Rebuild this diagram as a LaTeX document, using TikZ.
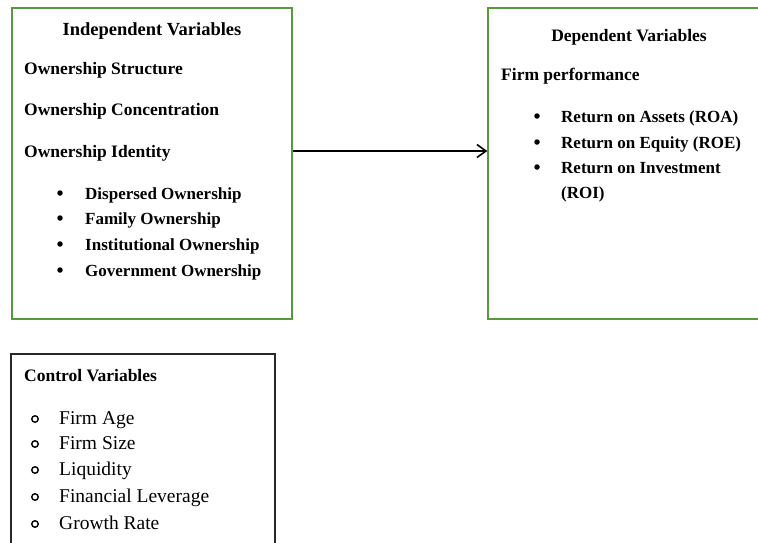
\documentclass[tikz,border=0pt]{standalone}
\usepackage{fontspec}
\setmainfont{Liberation Serif}
\usepackage{tikz}
\usetikzlibrary{arrows.meta}

\definecolor{boxgreen}{RGB}{86,154,58}
\definecolor{boxgray}{RGB}{40,40,40}

\tikzset{
    varbox/.style={draw, line width=1.4pt, inner sep=0pt},
    head/.style={font=\bfseries\fontsize{17.5}{20}\selectfont, inner sep=0pt},
    item/.style={font=\bfseries\fontsize{17}{20}\selectfont, inner sep=0pt, anchor=mid west},
    ctrl/.style={font=\fontsize{19.5}{22}\selectfont, inner sep=0pt, anchor=mid west},
    dot/.style={circle, fill, inner sep=0pt, minimum size=5.5pt},
    ring/.style={circle, draw, line width=1.4pt, inner sep=0pt, minimum size=6.5pt}
}

\begin{document}
\begin{tikzpicture}[x=1pt, y=-1pt]
                \clip (0,0) rectangle (758,542);

                % Boxes
                \node[varbox, boxgreen, minimum width=280pt, minimum height=311pt] (indep) at (152,163.5) {};
                \node[varbox, boxgreen, minimum width=282pt, minimum height=311pt] (dep) at (629,163.5) {};
                \node[varbox, boxgray, minimum width=264pt, minimum height=220pt] (ctrl) at (143,464) {};

                % Independent variables
                \node[head, font=\bfseries\fontsize{18.5}{20}\selectfont] (indtitle) at (152,31) {Independent Variables};
                \node[head, anchor=mid west] (structure) at (24,72) {Ownership Structure};
                \node[head, anchor=mid west] (concentration) at (24,113) {Ownership Concentration};
                \node[head, anchor=mid west] (identity) at (24,155) {Ownership Identity};
                \node[dot] (d1) at (60,193) {};
                \node[dot] (d2) at (60,218) {};
                \node[dot] (d3) at (60,244) {};
                \node[dot] (d4) at (60,270) {};
                \node[item] (dispersed) at (85,197) {Dispersed Ownership};
                \node[item] (family) at (85,222) {Family Ownership};
                \node[item] (institutional) at (85,248) {Institutional Ownership};
                \node[item] (government) at (85,274) {Government Ownership};

                % Dependent variables
                \node[head] (deptitle) at (629,37) {Dependent Variables};
                \node[head, anchor=mid west] (performance) at (501,78) {Firm performance};
                \node[dot] (r1) at (537,116) {};
                \node[dot] (r2) at (537,142) {};
                \node[dot] (r3) at (537,167) {};
                \node[item] (roa) at (561,120) {Return on Assets (ROA)};
                \node[item] (roe) at (561,146) {Return on Equity (ROE)};
                \node[item] (roi) at (561,171) {Return on Investment};
                \node[item] (roiabbr) at (561,196) {(ROI)};

                % Control variables
                \node[head, anchor=mid west] (ctrltitle) at (24,379) {Control Variables};
                \node[ring] (c1) at (35,419) {};
                \node[ring] (c2) at (35,444) {};
                \node[ring] (c3) at (35,470) {};
                \node[ring] (c4) at (35,497) {};
                \node[ring] (c5) at (35,524) {};
                \node[ctrl] (age) at (59,422) {Firm Age};
                \node[ctrl] (size) at (59,447) {Firm Size};
                \node[ctrl] (liquidity) at (59,473) {Liquidity};
                \node[ctrl] (leverage) at (59,500) {Financial Leverage};
                \node[ctrl] (growth) at (59,527) {Growth Rate};

                % Edges
                \coordinate (arrowrow) at (0,151);
                \draw[-{Straight Barb[length=9pt,width=13pt]}, line width=1.6pt] (indep.east |- arrowrow) -- (dep.west |- arrowrow);
            \end{tikzpicture}
\end{document}
